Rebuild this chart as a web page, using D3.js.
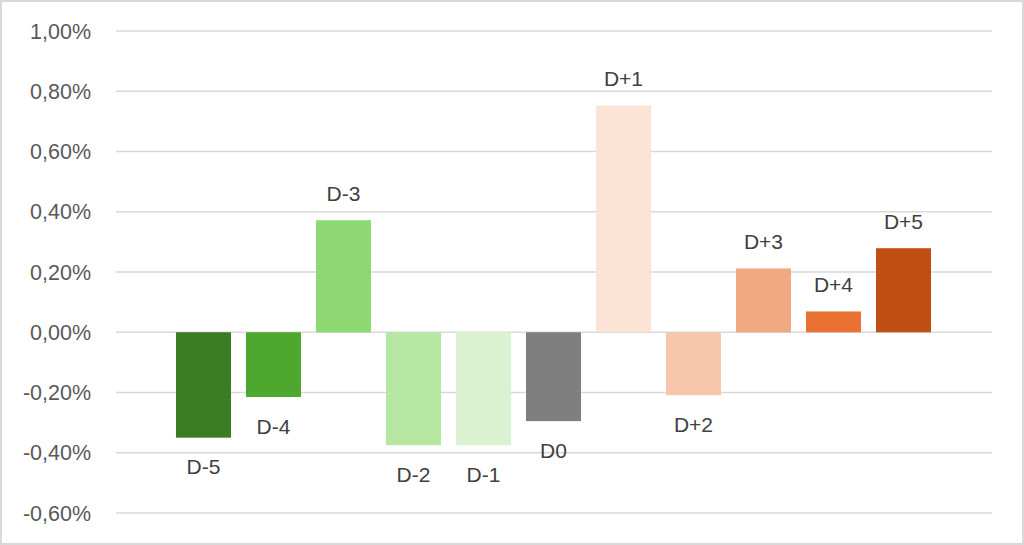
<!DOCTYPE html>
<html>
<head>
<meta charset="utf-8">
<script src="https://cdn.jsdelivr.net/npm/d3@7"></script>
<style>
  body { margin: 0; background: #fff; }
  svg { display: block; font-family: "Liberation Sans", Arial, sans-serif; }
</style>
</head>
<body>
<svg id="chart"></svg>
<script>
var days = ["D-5", "D-4", "D-3", "D-2", "D-1", "D0", "D+1", "D+2", "D+3", "D+4", "D+5"];
var values = [-0.35, -0.215, 0.372, -0.375, -0.375, -0.295, 0.752, -0.209, 0.212, 0.069, 0.279];
var colors = ["#3b7d23", "#4ea72e", "#8ed973", "#b5e6a2", "#daf2d0", "#7f7f7f",
              "#fbe3d6", "#f7c7ac", "#f1a983", "#e97132", "#c04f15"];
var yTicks = [-0.6, -0.4, -0.2, 0, 0.2, 0.4, 0.6, 0.8, 1.0];

function createChart() {
    var width = 1024, height = 545;
    var svg = d3.select("#chart").attr("width", width).attr("height", height);

    // outer border
    svg.append("rect")
        .attr("x", 1).attr("y", 1)
        .attr("width", width - 2).attr("height", height - 2)
        .attr("fill", "#fff")
        .attr("stroke", "#d9d9d9")
        .attr("stroke-width", 2);

    var y = d3.scaleLinear()
        .domain([-0.6, 1.0])
        .range([513, 31]);

    var x = d3.scaleBand()
        .domain(days)
        .range([168.5, 938.5])
        .paddingInner(0.214)
        .paddingOuter(0.107);

    // excel style: comma decimal, plain hyphen for minus
    var fmt = function(v) {
        return v.toFixed(2).replace(".", ",") + "%";
    };

    // gridlines
    svg.append("g")
        .selectAll("line")
        .data(yTicks)
        .enter()
        .append("line")
            .attr("x1", 116)
            .attr("x2", 992)
            .attr("y1", function(d) { return y(d); })
            .attr("y2", function(d) { return y(d); })
            .attr("stroke", "#d9d9d9")
            .attr("stroke-width", 1.5);

    // y axis labels
    svg.append("g")
        .selectAll("text")
        .data(yTicks)
        .enter()
        .append("text")
            .attr("x", 91)
            .attr("y", function(d) { return y(d); })
            .attr("dy", "0.36em")
            .attr("text-anchor", "end")
            .attr("font-size", 21.5)
            .attr("fill", "#595959")
            .text(fmt);

    // bars
    svg.append("g")
        .selectAll("rect")
        .data(values)
        .enter()
        .append("rect")
            .attr("x", function(d, i) { return x(days[i]); })
            .attr("width", x.bandwidth())
            .attr("y", function(d) { return y(Math.max(0, d)); })
            .attr("height", function(d) { return Math.abs(y(d) - y(0)); })
            .attr("fill", function(d, i) { return colors[i]; });

    // category labels above / below each bar
    svg.append("g")
        .selectAll("text")
        .data(values)
        .enter()
        .append("text")
            .attr("x", function(d, i) { return x(days[i]) + x.bandwidth() / 2; })
            .attr("y", function(d) {
                return d >= 0 ? y(d) - 19.5 : y(d) + 36.5;
            })
            .attr("text-anchor", "middle")
            .attr("font-size", 21)
            .attr("fill", "#404040")
            .text(function(d, i) { return days[i]; });
}

createChart();
</script>
</body>
</html>
